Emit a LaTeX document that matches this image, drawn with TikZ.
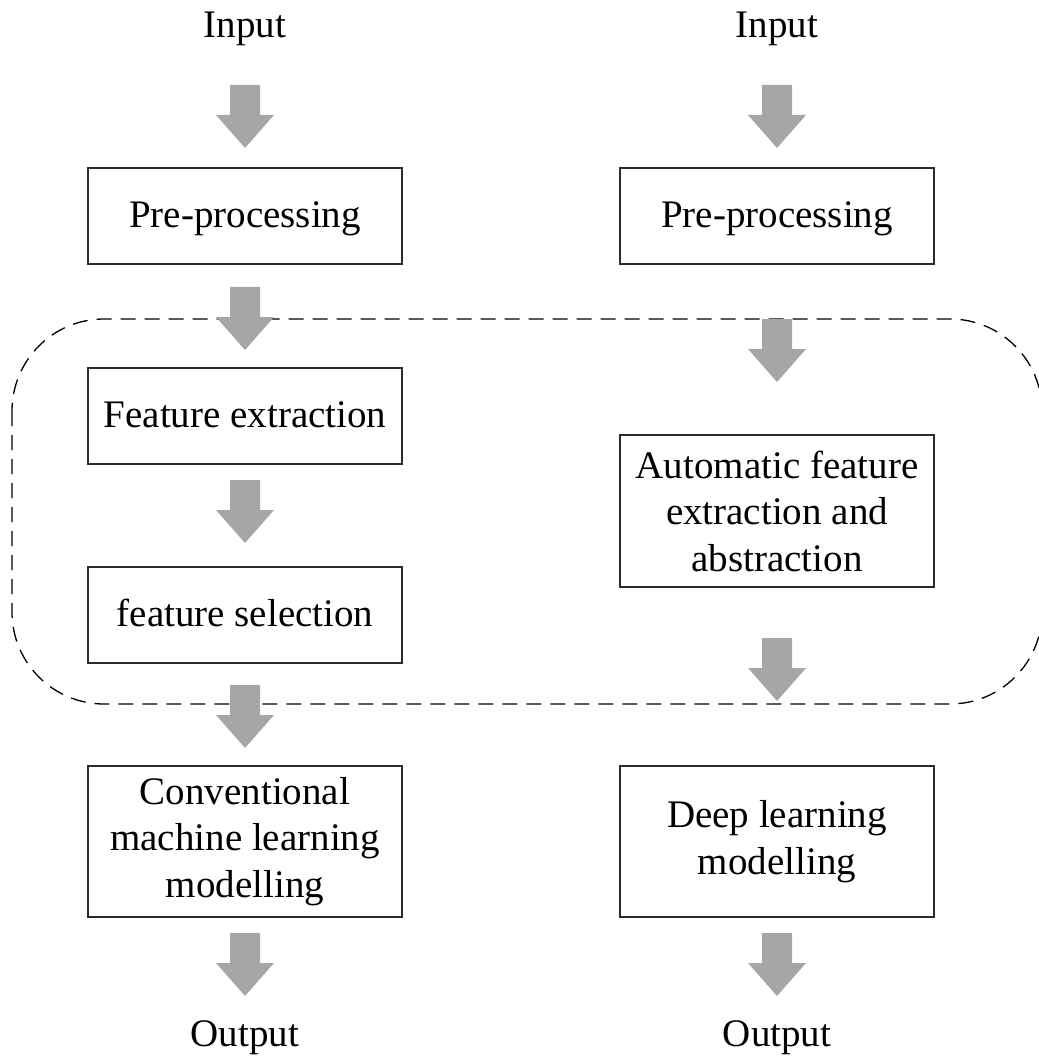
\documentclass[tikz,border=0pt]{standalone}
\usepackage{fontspec}
\setmainfont{Liberation Serif}
\usetikzlibrary{calc}
\definecolor{arrowgray}{HTML}{A6A6A6}
\definecolor{framegray}{HTML}{2B2B2B}
\tikzset{
  stagebox/.style={draw=framegray, line width=2pt, minimum width=314pt,
    align=center, inner sep=0pt},
  onebox/.style={stagebox, minimum height=96pt, text height=27pt, text depth=3pt},
  threebox/.style={stagebox, minimum height=151pt},
  label/.style={inner sep=0pt, anchor=base},
  groupframe/.style={draw=black, line width=1.3pt, dash pattern=on 15pt off 9pt,
    rounded corners=92pt},
}
% block arrow hanging down from a named coordinate (top of the shaft)
\newcommand\blockarrow[1]{%
  \fill[arrowgray, shift={(#1)}]
    (-15,0) -- (15,0) -- (15,30) -- (29,30) -- (0,63) -- (-29,30) -- (-15,30) -- cycle;}
\begin{document}
\begin{tikzpicture}[x=1pt, y=-1pt, font=\fontsize{39}{46.5}\selectfont]
\useasboundingbox (0,0) rectangle (1038,1056);

% dashed frame around the feature stages
\draw[groupframe] (12,319) rectangle (1042,704);

% left column: conventional machine learning
\node[label] (inL) at (245,38) {Input};
\node[onebox] (preL) at (245,216) {Pre-processing};
\node[onebox] (fext) at (245,415.5) {Feature extraction};
\node[onebox] (fsel) at (245,614.5) {feature selection};
\node[threebox] (cml) at (245,841.5) {Conventional\\machine learning\\modelling};
\node[label] (outL) at (245,1046) {Output};

% right column: deep learning
\node[label] (inR) at (777,38) {Input};
\node[onebox] (preR) at (777,216) {Pre-processing};
\node[stagebox, minimum height=152pt] (auto) at (777,511) {Automatic feature\\extraction and\\abstraction};
\node[threebox] (dl) at (777,841.5) {Deep learning\\modelling};
\node[label] (outR) at (777,1046) {Output};

% arrow anchor points
\coordinate (a1) at (245,85);
\coordinate (a2) at (245,287);
\coordinate (a3) at (245,480);
\coordinate (a4) at (245,685);
\coordinate (a5) at (245,933);
\coordinate (b1) at (777,85);
\coordinate (b2) at (777,319);
\coordinate (b3) at (777,638);
\coordinate (b4) at (777,933);

\foreach \p in {a1,a2,a3,a4,a5,b1,b2,b3,b4} {\blockarrow{\p}}
\end{tikzpicture}
\end{document}
